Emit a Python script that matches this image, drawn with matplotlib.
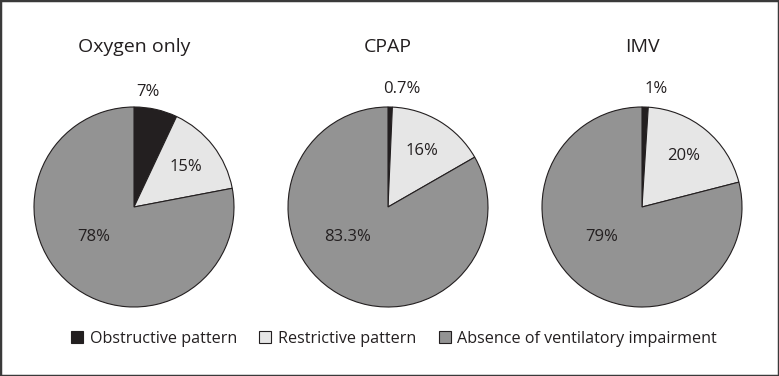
import numpy as np
import matplotlib
matplotlib.use("Agg")
import matplotlib.pyplot as plt
from matplotlib.patches import Rectangle, Patch

plt.rcParams['font.family'] = ['Open Sans', 'DejaVu Sans']

# data
groups = ['Oxygen only', 'CPAP', 'IMV']
categories = ['Obstructive pattern', 'Restrictive pattern', 'Absence of ventilatory impairment']
obstructive = [7, 0.7, 1]
restrictive = [15, 16, 20]
absence = [78, 83.3, 79]
labels_obs = ['7%', '0.7%', '1%']
labels_res = ['15%', '16%', '20%']
labels_abs = ['78%', '83.3%', '79%']

colors = ['#231f20', '#e6e6e6', '#939393']
txt = '#231f20'

W, H = 779, 376
fig = plt.figure(figsize=(W / 100, H / 100), dpi=100)

centers_x = [134, 388, 642]
cy = 207
r = 100
half = 1.3 * r

for i, g in enumerate(groups):
    ax = fig.add_axes([(centers_x[i] - half) / W, (H - cy - half) / H, 2 * half / W, 2 * half / H])
    vals = [obstructive[i], restrictive[i], absence[i]]
    labs = [labels_obs[i], labels_res[i], labels_abs[i]]
    wedges, _ = ax.pie(vals, colors=colors, startangle=90, counterclock=False, radius=1,
                       wedgeprops=dict(edgecolor=txt, linewidth=0.8))
    ax.set_xlim(-1.3, 1.3)
    ax.set_ylim(-1.3, 1.3)
    ax.set_aspect('equal')
    ax.axis('off')

    # label positions
    dists = [1.18, 0.66, None]
    for j, w in enumerate(wedges):
        if dists[j] is None:
            x, y = -0.40, -0.30
        else:
            th = np.deg2rad((w.theta1 + w.theta2) / 2)
            x, y = dists[j] * np.cos(th), dists[j] * np.sin(th)
            if j == 0:
                x = 0.14
        ax.text(x, y, labs[j], ha='center', va='center', fontsize=12, color=txt)

    fig.text(centers_x[i] / W, 1 - 47 / H, g, ha='center', va='center', fontsize=14, color=txt)

handles = [Patch(facecolor=c, edgecolor=txt, linewidth=0.8) for c in colors]
fig.legend(handles, categories, loc='center', bbox_to_anchor=(394 / W, 1 - 339 / H), ncol=3,
           frameon=False, fontsize=11.6, handlelength=0.75, handleheight=0.75,
           handletextpad=0.4, columnspacing=1.4, labelcolor=txt)

fig.add_artist(Rectangle((0, 0), 1, 1, transform=fig.transFigure, fill=False,
                         linewidth=2.5, edgecolor='#3a3a3a'))

fig.savefig('out.png', dpi=100)
